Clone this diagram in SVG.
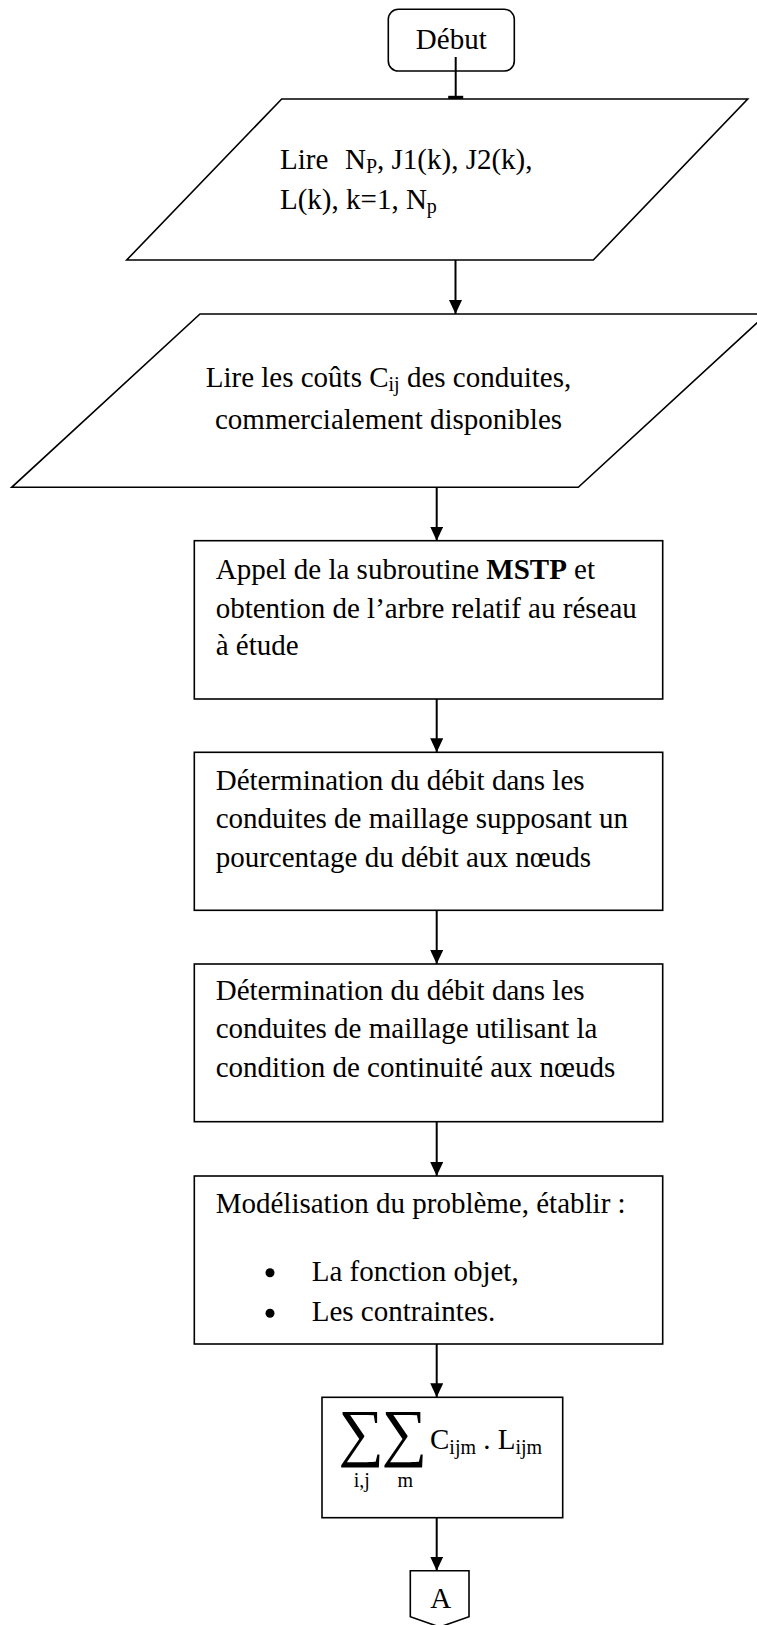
<svg xmlns="http://www.w3.org/2000/svg" width="757" height="1625" viewBox="0 0 757 1625">
  <style>
    .t { font-family: "Liberation Serif", "Times New Roman", serif; font-size: 29px; fill: #000; }
    .sub { font-size: 20px; }
    .sigma { font-family: "Liberation Serif", "DejaVu Serif", serif; font-size: 64px; fill: #000; }
    .shape { fill: #fff; stroke: #000; stroke-width: 1.6; }
    .conn { fill: none; stroke: #000; stroke-width: 2; }
  </style>
  <defs>
    <marker id="arrow" markerUnits="userSpaceOnUse" viewBox="0 0 14 13" markerWidth="14" markerHeight="13" refX="14" refY="6.5" orient="auto">
      <path d="M0,0 L14,6.5 L0,13 z" fill="#000"/>
    </marker>
  </defs>
  <rect width="757" height="1625" fill="#fff"/>

  <!-- start terminal -->
  <g id="start">
    <rect class="shape" x="388.3" y="9.3" width="126" height="61.7" rx="10" ry="10"/>
    <text class="t" x="451.3" y="49.3" text-anchor="middle">Début</text>
  </g>

  <!-- input: network data -->
  <g id="read-network">
    <polygon class="shape" points="281.7,99 747.7,99 593.3,260 126.7,260"/>
    <text class="t" x="280" y="169">Lire<tspan x="345">N</tspan><tspan class="sub" dy="4">P</tspan><tspan dy="-4">, J1(k), J2(k),</tspan></text>
    <text class="t" x="280" y="209">L(k), k=1, N<tspan class="sub" dy="4">p</tspan></text>
  </g>

  <!-- input: pipe costs -->
  <g id="read-costs">
    <polygon class="shape" points="200,314 766.6,314 578.3,487.3 11.7,487.3"/>
    <text class="t" x="388.5" y="386.7" text-anchor="middle">Lire les coûts C<tspan class="sub" dy="4">ij</tspan><tspan dy="-4"> des conduites,</tspan></text>
    <text class="t" x="388.5" y="429.3" text-anchor="middle">commercialement disponibles</text>
  </g>

  <!-- spanning tree subroutine -->
  <g id="mstp">
    <rect class="shape" x="194.3" y="540.7" width="468.4" height="158.3"/>
    <text class="t" x="215.7" y="579">Appel de la subroutine <tspan font-weight="bold">MSTP</tspan> et</text>
    <text class="t" x="215.7" y="618.3">obtention de l’arbre relatif au réseau</text>
    <text class="t" x="215.7" y="655">à étude</text>
  </g>

  <!-- loop flows from node percentage -->
  <g id="flow-percentage">
    <rect class="shape" x="194.3" y="752.3" width="468.4" height="158"/>
    <text class="t" x="215.7" y="790">Détermination du débit dans les</text>
    <text class="t" x="215.7" y="828.3">conduites de maillage supposant un</text>
    <text class="t" x="215.7" y="867.3">pourcentage du débit aux nœuds</text>
  </g>

  <!-- loop flows from continuity -->
  <g id="flow-continuity">
    <rect class="shape" x="194.3" y="964" width="468.4" height="157.7"/>
    <text class="t" x="215.7" y="1000">Détermination du débit dans les</text>
    <text class="t" x="215.7" y="1038.3">conduites de maillage utilisant la</text>
    <text class="t" x="215.7" y="1076.7">condition de continuité aux nœuds</text>
  </g>

  <!-- problem model -->
  <g id="model">
    <rect class="shape" x="194.3" y="1176" width="468.4" height="168"/>
    <text class="t" x="215.7" y="1213.3">Modélisation du problème, établir :</text>
    <circle cx="270" cy="1272.7" r="4.5" fill="#000"/>
    <text class="t" x="311.7" y="1280.7">La fonction objet,</text>
    <circle cx="270" cy="1313.3" r="4.5" fill="#000"/>
    <text class="t" x="311.7" y="1320.7">Les contraintes.</text>
  </g>

  <!-- objective function -->
  <g id="objective">
    <rect class="shape" x="322" y="1397.3" width="240.7" height="120.4"/>
    <text class="sigma" x="361" y="1454" text-anchor="middle">∑</text>
    <text class="sigma" x="404.3" y="1454" text-anchor="middle">∑</text>
    <text class="t sub" x="361.7" y="1487" text-anchor="middle">i,j</text>
    <text class="t sub" x="405.3" y="1487" text-anchor="middle">m</text>
    <text class="t" x="430" y="1449.3">C<tspan class="sub" dy="5">ijm</tspan><tspan dy="-5"> . L</tspan><tspan class="sub" dy="5">ijm</tspan></text>
  </g>

  <!-- off-page connector -->
  <g id="connector-A">
    <polygon class="shape" points="410.3,1570.7 469,1570.7 469,1616.7 439.7,1627 410.3,1616.7"/>
    <text class="t" x="440.7" y="1608.3" text-anchor="middle">A</text>
  </g>

  <!-- flow lines -->
  <g id="connectors">
    <line class="conn" x1="455.7" y1="57" x2="455.7" y2="98"/>
    <rect x="448.2" y="95.8" width="15" height="3.2" fill="#000"/>
    <line class="conn" x1="455.5" y1="260" x2="455.5" y2="314" marker-end="url(#arrow)"/>
    <line class="conn" x1="436.7" y1="487.3" x2="436.7" y2="540.7" marker-end="url(#arrow)"/>
    <line class="conn" x1="436.7" y1="699" x2="436.7" y2="752.3" marker-end="url(#arrow)"/>
    <line class="conn" x1="436.7" y1="910.3" x2="436.7" y2="964" marker-end="url(#arrow)"/>
    <line class="conn" x1="436.7" y1="1121.7" x2="436.7" y2="1176" marker-end="url(#arrow)"/>
    <line class="conn" x1="436.7" y1="1344" x2="436.7" y2="1397.3" marker-end="url(#arrow)"/>
    <line class="conn" x1="436.7" y1="1517.7" x2="436.7" y2="1570.7" marker-end="url(#arrow)"/>
  </g>
</svg>
